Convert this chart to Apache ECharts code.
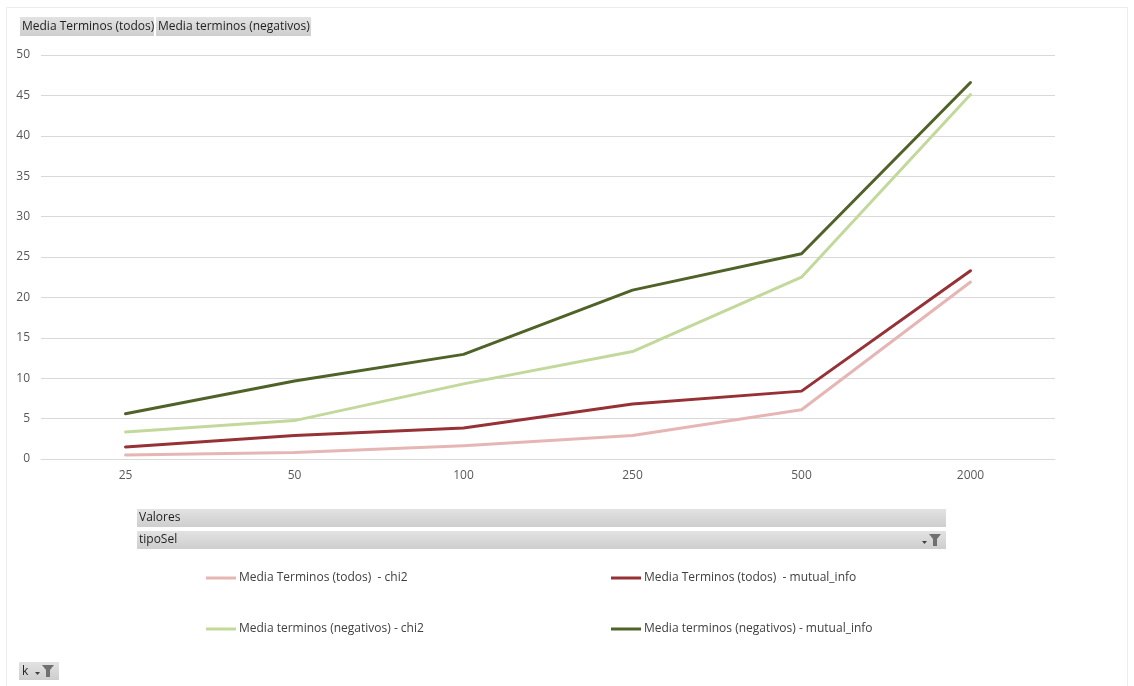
<!DOCTYPE html>
<html>
<head>
<meta charset="utf-8">
<script src="https://cdn.jsdelivr.net/npm/echarts@6/dist/echarts.min.js"></script>
<style>
  html, body { margin: 0; padding: 0; background: #ffffff; }
  #chart { width: 1134px; height: 686px; }
</style>
</head>
<body>
<div id="chart"></div>
<script>
// Categories (k) and averaged term counts per selection method
const categories = ['25', '50', '100', '250', '500', '2000'];
const yTicks = [0, 5, 10, 15, 20, 25, 30, 35, 40, 45, 50];

const todosChi2 = [0.5, 0.8, 1.65, 2.9, 6.1, 21.9];
const todosMutual = [1.5, 2.9, 3.85, 6.8, 8.4, 23.3];
const negChi2 = [3.35, 4.75, 9.3, 13.3, 22.5, 45.1];
const negMutual = [5.6, 9.65, 12.95, 20.9, 25.4, 46.6];

const seriesNames = [
  'Media Terminos (todos)  - chi2',
  'Media Terminos (todos)  - mutual_info',
  'Media terminos (negativos) - chi2',
  'Media terminos (negativos) - mutual_info'
];
const seriesValues = [todosChi2, todosMutual, negChi2, negMutual];
const seriesColors = ['#e6b6b5', '#963236', '#c3d89b', '#4f6228'];

const fieldButtons = ['Media Terminos (todos)', 'Media terminos (negativos)'];

const FONT = '"Open Sans", "DejaVu Sans", sans-serif';

const chart = echarts.init(document.getElementById('chart'), null, { renderer: 'canvas' });

// gray pivot-field button fill
function buttonFill() {
  return new echarts.graphic.LinearGradient(0, 0, 0, 1, [
    { offset: 0, color: '#e2e2e2' },
    { offset: 1, color: '#cecece' }
  ]);
}

function filterIcon(x, y) {
  // small dropdown arrow + funnel
  return [
    {
      type: 'polygon',
      shape: { points: [[x, y + 8], [x + 5, y + 8], [x + 2.5, y + 11]] },
      style: { fill: '#404040' }, silent: true
    },
    {
      type: 'polygon',
      shape: { points: [[x + 7, y + 1], [x + 19, y + 1], [x + 15, y + 6], [x + 15, y + 13], [x + 11, y + 13], [x + 11, y + 6]] },
      style: { fill: '#707070' }, silent: true
    }
  ];
}

function label(x, y, text, size) {
  return {
    type: 'text', x: x, y: y,
    style: { text: text, fill: '#1f1f1f', font: size + 'px ' + FONT, verticalAlign: 'middle' },
    silent: true
  };
}

function bar(x, y, w, h) {
  return {
    type: 'rect',
    shape: { x: x, y: y, width: w, height: h },
    style: { fill: buttonFill() }, silent: true
  };
}

const graphics = [
  // chart area border
  {
    type: 'rect',
    shape: { x: 6.5, y: 7.5, width: 1121, height: 690 },
    style: { fill: 'none', stroke: '#ececec', lineWidth: 1 },
    silent: true, z: -10
  },
  // field buttons at the top
  bar(20, 17, 134, 19),
  label(22, 26.5, fieldButtons[0], 12),
  bar(156, 17, 155, 19),
  label(158, 26.5, fieldButtons[1], 12),
  // Valores / tipoSel bars
  bar(137, 509, 809, 18),
  label(139, 518, 'Valores', 12),
  bar(137, 531, 809, 18),
  label(139, 540, 'tipoSel', 12),
  // k button
  bar(19, 662, 40, 18),
  label(22, 671.5, 'k', 12)
].concat(filterIcon(922, 533), filterIcon(35, 664));

const series = seriesNames.map((name, i) => ({
  name: name,
  type: 'line',
  data: seriesValues[i],
  showSymbol: false,
  symbol: 'none',
  lineStyle: { width: 3, color: seriesColors[i], cap: 'round', join: 'round' },
  itemStyle: { color: seriesColors[i] },
  emphasis: { disabled: true },
  animation: false
}));

const legendCommon = {
  orient: 'vertical',
  icon: 'rect',
  itemWidth: 30,
  itemHeight: 3,
  itemGap: 37,
  padding: 0,
  selectedMode: false,
  textStyle: { color: '#404040', fontSize: 12, lineHeight: 14, fontFamily: FONT, padding: [0, 0, 0, -2] }
};

chart.setOption({
  backgroundColor: '#ffffff',
  animation: false,
  textStyle: { fontFamily: FONT },
  grid: { left: 41, right: 79, top: 55, bottom: 227, containLabel: false },
  legend: [
    Object.assign({ left: 206, top: 571, data: [seriesNames[0], seriesNames[2]] }, legendCommon),
    Object.assign({ left: 611, top: 571, data: [seriesNames[1], seriesNames[3]] }, legendCommon)
  ],
  xAxis: {
    type: 'category',
    data: categories,
    boundaryGap: true,
    axisLine: { show: true, lineStyle: { color: '#d9d9d9', width: 1 } },
    axisTick: { show: false },
    axisLabel: { color: '#595959', fontSize: 12, fontFamily: FONT, margin: 11 },
    splitLine: { show: false }
  },
  yAxis: {
    type: 'value',
    min: yTicks[0],
    max: yTicks[yTicks.length - 1],
    interval: yTicks[1] - yTicks[0],
    axisLine: { show: false },
    axisTick: { show: false },
    axisLabel: { color: '#595959', fontSize: 12, fontFamily: FONT, margin: 11, align: 'right' },
    splitLine: { show: true, lineStyle: { color: '#d9d9d9', width: 1 } }
  },
  series: series,
  graphic: graphics
});
</script>
</body>
</html>
